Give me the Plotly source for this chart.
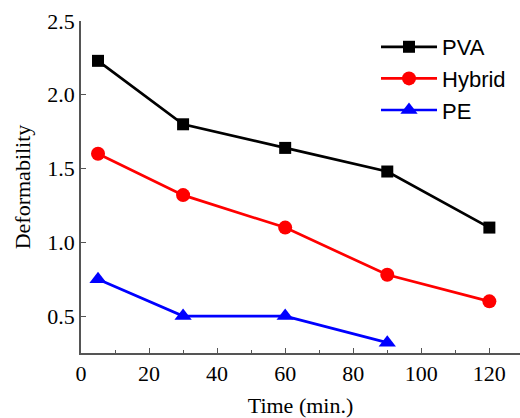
import plotly.graph_objects as go

time_pva = [5, 30, 60, 90, 120]
pva = [2.23, 1.80, 1.64, 1.48, 1.10]
time_hybrid = [5, 30, 60, 90, 120]
hybrid = [1.60, 1.32, 1.10, 0.78, 0.60]
time_pe = [5, 30, 60, 90]
pe = [0.75, 0.50, 0.50, 0.32]

x_ticks = [0, 20, 40, 60, 80, 100, 120]
y_ticks = [0.5, 1.0, 1.5, 2.0, 2.5]
y_ticklabels = ["0.5", "1.0", "1.5", "2.0", "2.5"]

serif = "Liberation Serif, Times New Roman, serif"
axis_col = "#555555"

fig = go.Figure()
fig.add_trace(go.Scatter(x=time_pva, y=pva, name="PVA", mode="lines+markers",
                         line=dict(color="black", width=2.7),
                         marker=dict(symbol="square", size=12, color="black")))
fig.add_trace(go.Scatter(x=time_hybrid, y=hybrid, name="Hybrid", mode="lines+markers",
                         line=dict(color="#ff0000", width=2.7),
                         marker=dict(symbol="circle", size=14, color="#ff0000")))
fig.add_trace(go.Scatter(x=time_pe, y=pe, name="PE", mode="lines+markers",
                         line=dict(color="#0000ff", width=2.7),
                         marker=dict(symbol="triangle-up", size=15, color="#0000ff")))

fig.update_layout(
    width=520, height=418,
    margin=dict(l=81, r=0, t=21, b=65),
    paper_bgcolor="white", plot_bgcolor="white",
    font=dict(family=serif, size=22, color="black"),
    showlegend=True,
    legend=dict(x=0.672, y=0.985, xanchor="left", yanchor="top",
                font=dict(family="Liberation Sans, Arial, sans-serif", size=22, color="black"),
                bgcolor="rgba(0,0,0,0)", tracegroupgap=0, itemwidth=56),
    xaxis=dict(range=[0, 129], tickvals=x_ticks, ticks="inside", ticklen=5,
               tickwidth=1.3, tickcolor=axis_col, showline=True, linecolor=axis_col,
               linewidth=1.5, showgrid=False, zeroline=False,
               minor=dict(dtick=10, tick0=0, ticks="inside", ticklen=3, tickcolor=axis_col, tickwidth=1.3),
               title=dict(text="Time (min.)", font=dict(family=serif, size=22), standoff=12),
               tickfont=dict(family=serif, size=22)),
    yaxis=dict(range=[0.25, 2.5], tickvals=y_ticks, ticktext=y_ticklabels, ticks="inside",
               ticklen=5, tickwidth=1.3, tickcolor=axis_col, showline=True, linecolor=axis_col,
               linewidth=1.5, showgrid=False, zeroline=False,
               title=dict(text="Deformability", font=dict(family=serif, size=22), standoff=11),
               tickfont=dict(family=serif, size=22)),
)

fig.write_html("out.html")
